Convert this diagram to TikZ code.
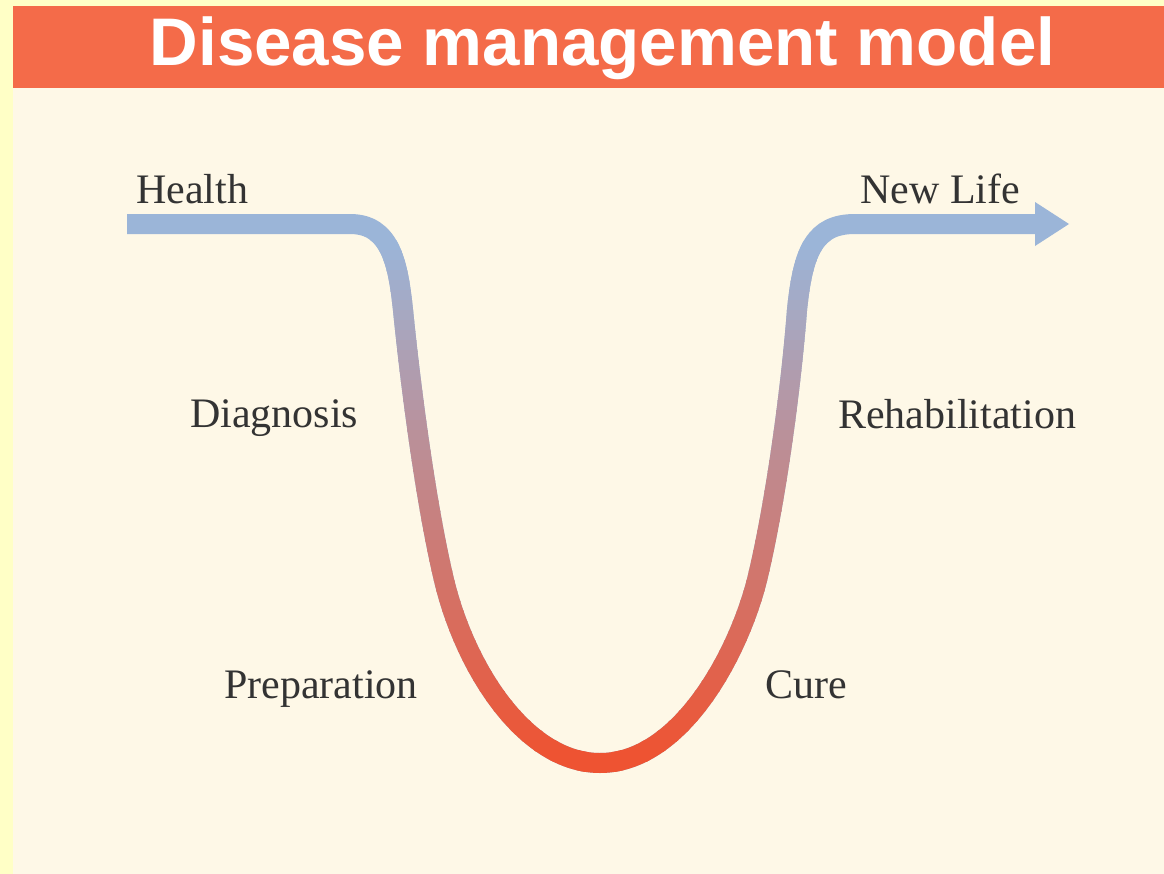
\documentclass[tikz,border=0pt]{standalone}
\usepackage{fontspec}
\setmainfont{Liberation Serif}
\newfontfamily\titlefont{Liberation Sans}
\definecolor{stripyellow}{HTML}{FFFFC6}
\definecolor{cream}{HTML}{FEF8E7}
\definecolor{titleorange}{HTML}{F46B49}
\definecolor{curveblue}{HTML}{9BB5D8}
\definecolor{curvered}{HTML}{EE5332}
\definecolor{labelgray}{HTML}{333333}
\def\curvepath{(start) -- (350,224) .. controls (390,224) and (398,262) .. (403,310) .. controls (410,380) and (425,500) .. (444,580) .. controls (465,668) and (525,763) .. (bottom) .. controls (680,763) and (738,655) .. (757,580) .. controls (774,510) and (790,400) .. (797,310) .. controls (803,250) and (815,224) .. (855,224) -- (shaftend)}
\begin{document}
\begin{tikzpicture}[x=0.75pt,y=-0.75pt,
  lbl/.style={font=\fontsize{31.5}{34}\selectfont, text=labelgray, inner sep=0pt, anchor=base west},
  curvestroke/.style={line width=15pt, line cap=butt}]
\useasboundingbox (0,0) rectangle (1164,874);
\fill[stripyellow] (0,0) rectangle (1164,874);
\fill[cream] (13,88) rectangle (1164,874);
\fill[titleorange] (13,6) rectangle (1164,88);
\node[font=\titlefont\bfseries\fontsize{50.5}{52}\selectfont, text=white, inner sep=0pt, anchor=base] (title) at (602.5,65) {Disease management model};
\coordinate (start) at (127,224);
\coordinate (bottom) at (600,763);
\coordinate (shaftend) at (1037,224);
\coordinate (tip) at (1069,224);
\draw[curvestroke, curveblue] \curvepath;
\foreach \yy in {240,250,...,780}{
  \pgfmathsetmacro\pct{min(100,max(0,(\yy+5-245)/5.1))}
  \colorlet{bandcol}{curvered!\pct!curveblue}
  \begin{scope}
    \clip (0,\yy) rectangle (1164,\yy+11);
    \draw[curvestroke, bandcol] \curvepath;
  \end{scope}
}
\fill[curveblue] (1035,202) -- (tip) -- (1035,246) -- cycle;
\node[lbl] (health) at (136,203) {Health};
\node[lbl] (newlife) at (860,203) {New Life};
\node[lbl] (diagnosis) at (190,427) {Diagnosis};
\node[lbl] (rehab) at (838,428) {Rehabilitation};
\node[lbl] (prep) at (224,698) {Preparation};
\node[lbl] (cure) at (765,698) {Cure};
\end{tikzpicture}
\end{document}
